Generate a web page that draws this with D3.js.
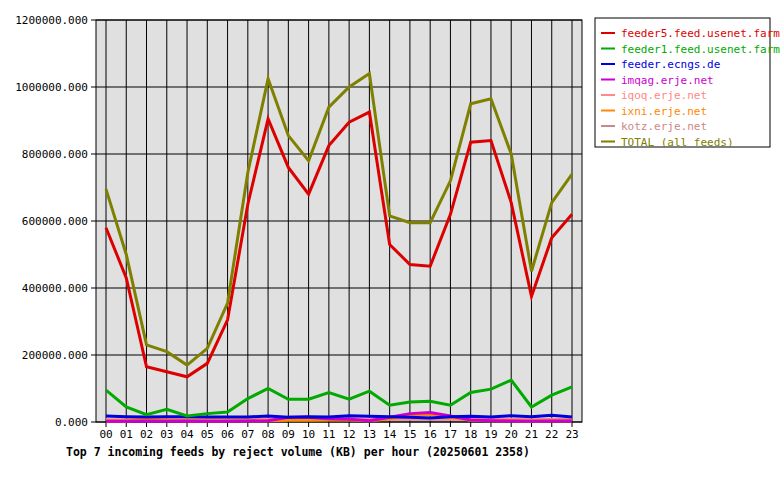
<!DOCTYPE html><html><head><script src="https://d3js.org/d3.v7.min.js"></script>
<style>body{margin:0;background:#fff}</style></head><body><svg id="c" width="780" height="480"></svg>
<script>
const hours=["00","01","02","03","04","05","06","07","08","09","10","11","12","13","14","15","16","17","18","19","20","21","22","23"];
const yTicks=[0,200000,400000,600000,800000,1000000,1200000];
const feeder5=[580000,430000,165000,150000,135000,175000,305000,650000,905000,760000,680000,825000,895000,925000,530000,470000,465000,620000,835000,840000,655000,375000,550000,620000];
const feeder1=[95000,45000,22000,38000,18000,25000,30000,70000,100000,68000,68000,88000,68000,92000,50000,60000,62000,50000,88000,98000,125000,45000,80000,105000];
const ecngs=[18000,16000,15000,16000,16000,15000,15000,15000,18000,14000,16000,15000,19000,17000,16000,14000,12000,16000,17000,15000,19000,16000,20000,15000];
const imqag=[2000,2000,3000,2000,3000,2000,2000,3000,4000,14000,14000,10000,8000,4000,14000,25000,28000,18000,6000,4000,3000,2000,3000,3000];
const iqoq=[6000,5000,7000,6000,6000,6000,6000,6000,7000,9000,10000,9000,10000,8000,9000,10000,10000,9000,8000,8000,8000,6000,7000,6000];
const ixni=[3000,3000,8000,5000,4000,4000,4000,4000,4000,5000,5000,6000,6000,4000,10000,20000,22000,15000,5000,4000,4000,3000,4000,4000];
const kotz=[6000,6000,7000,6000,6000,7000,6000,7000,8000,8000,8000,9000,8000,7000,8000,9000,8000,8000,8000,7000,7000,6000,8000,7000];
const total=[695000,500000,230000,210000,170000,220000,355000,745000,1025000,855000,780000,940000,1000000,1040000,615000,595000,595000,720000,950000,965000,800000,450000,655000,740000];
const seriesNames=["feeder5.feed.usenet.farm","feeder1.feed.usenet.farm","feeder.ecngs.de","imqag.erje.net","iqoq.erje.net","ixni.erje.net","kotz.erje.net","TOTAL (all feeds)"];
const seriesData=[feeder5,feeder1,ecngs,imqag,iqoq,ixni,kotz,total];
const colors=["#dd0000","#00aa00","#0000dd","#cc00cc","#ff8888","#ff8800","#cc8888","#808000"];
const widths=[3,3,3,3,3,3,3,3];
const svg=d3.select("#c");const font="'DejaVu Sans Mono',monospace";
const L=96,R=582,T=20,B=422;
const x=d3.scalePoint().domain(hours).range([106,572]);
const y=d3.scaleLinear().domain([0,1200000]).range([B,T]);
svg.append("rect").attr("x",L).attr("y",T).attr("width",R-L).attr("height",B-T).attr("fill","#e0e0e0").attr("stroke","#000");
const g=svg.append("g");
hours.forEach(h=>g.append("line").attr("x1",x(h)).attr("x2",x(h)).attr("y1",T).attr("y2",B+5).attr("stroke","#000"));
yTicks.forEach(t=>{g.append("line").attr("x1",L-5).attr("x2",R).attr("y1",y(t)).attr("y2",y(t)).attr("stroke","#000");
 g.append("text").attr("x",L-8).attr("y",y(t)+4).attr("text-anchor","end").attr("font-family",font).attr("font-size",11).text(t.toFixed(3));});
hours.forEach(h=>g.append("text").attr("x",x(h)).attr("y",B+16).attr("text-anchor","middle").attr("font-family",font).attr("font-size",11).text(h));
const line=d3.line().x((d,i)=>x(hours[i])).y(d=>y(d));
[6,4,5,3,2,1,0,7].forEach(i=>svg.append("path").attr("d",line(seriesData[i])).attr("fill","none").attr("stroke",colors[i]).attr("stroke-width",widths[i]));
svg.append("text").attr("x",66).attr("y",456).attr("font-family",font).attr("font-size",11.5).attr("font-weight","bold").text("Top 7 incoming feeds by reject volume (KB) per hour (20250601 2358)");
svg.append("rect").attr("x",595).attr("y",18).attr("width",175).attr("height",129).attr("fill","#fff").attr("stroke","#000");
seriesNames.forEach((n,i)=>{const yy=33+i*15.5;
 svg.append("line").attr("x1",601).attr("x2",615).attr("y1",yy).attr("y2",yy).attr("stroke",colors[i]).attr("stroke-width",2);
 svg.append("text").attr("x",621).attr("y",yy+4).attr("font-family",font).attr("font-size",11).attr("fill",colors[i]).text(n);});
</script></body></html>
